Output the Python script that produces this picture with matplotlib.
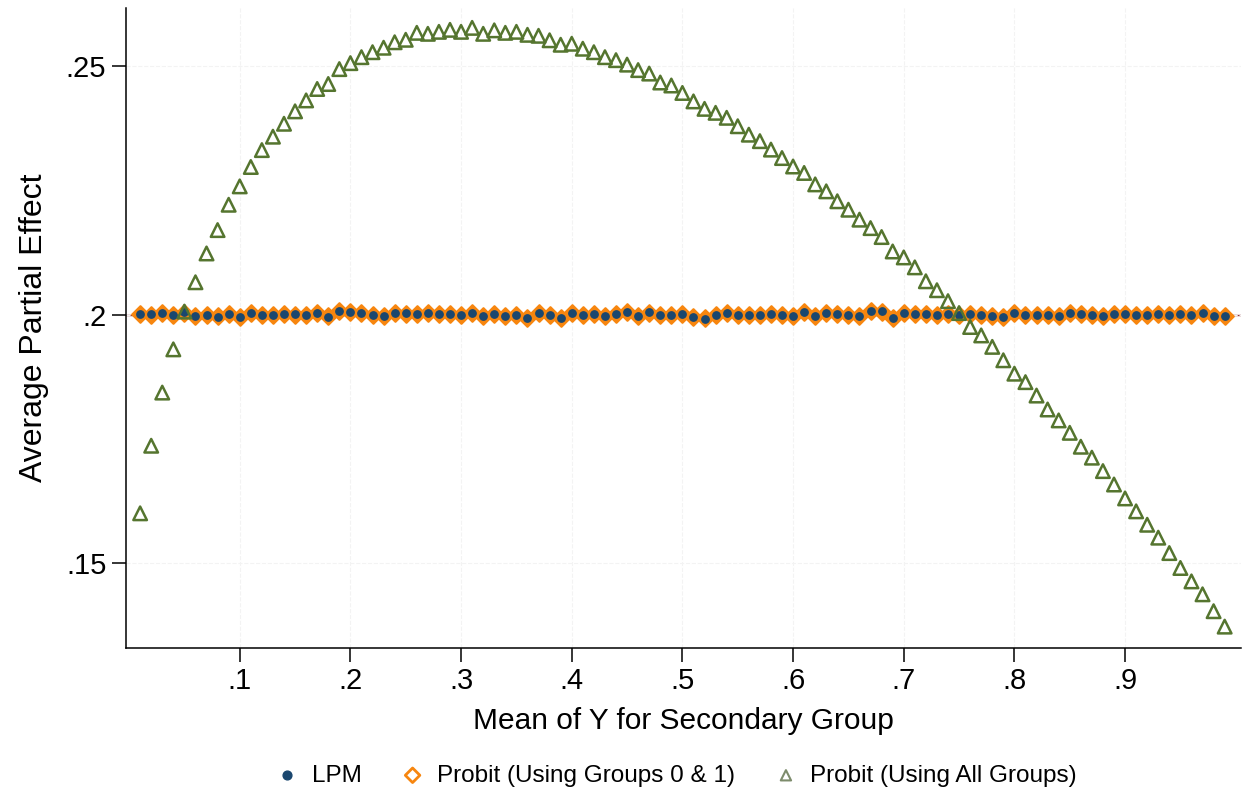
import matplotlib.pyplot as plt
from matplotlib.ticker import FuncFormatter

plt.rcParams['font.family'] = ['Liberation Sans', 'DejaVu Sans']

# mean of Y for secondary group, 0.01 .. 0.99
mean_y = [round(0.01 * i, 2) for i in range(1, 100)]

lpm = [0.2001, 0.2001, 0.2003, 0.1999, 0.2005, 0.1998, 0.1999, 0.1996, 0.2001, 0.1996,
       0.2003, 0.2000, 0.1999, 0.2001, 0.2001, 0.1999, 0.2003, 0.1996, 0.2008, 0.2005,
       0.2003, 0.2000, 0.1998, 0.2003, 0.2003, 0.2001, 0.2004, 0.2001, 0.2002, 0.1999,
       0.2003, 0.1998, 0.2001, 0.1997, 0.2000, 0.1993, 0.2003, 0.1999, 0.1993, 0.2003,
       0.2000, 0.2001, 0.1997, 0.2002, 0.2005, 0.1997, 0.2005, 0.2000, 0.2000, 0.2002,
       0.1995, 0.1992, 0.1999, 0.2003, 0.2000, 0.2000, 0.2000, 0.2002, 0.2000, 0.1997,
       0.2005, 0.1997, 0.2003, 0.2001, 0.2000, 0.1997, 0.2007, 0.2007, 0.1993, 0.2003,
       0.2001, 0.2002, 0.2000, 0.2001, 0.1999, 0.2002, 0.2000, 0.1998, 0.1996, 0.2003,
       0.2000, 0.1999, 0.2000, 0.1998, 0.2003, 0.2001, 0.2000, 0.1998, 0.2002, 0.2002,
       0.2000, 0.1999, 0.2002, 0.2000, 0.2001, 0.1999, 0.2003, 0.1998, 0.1998]

probit_01 = [0.2001, 0.2000, 0.2003, 0.1999, 0.2004, 0.1998, 0.1999, 0.1997, 0.2001, 0.1996,
             0.2003, 0.2000, 0.1999, 0.2001, 0.2000, 0.1999, 0.2003, 0.1997, 0.2008, 0.2005,
             0.2003, 0.2000, 0.1998, 0.2003, 0.2002, 0.2001, 0.2004, 0.2001, 0.2002, 0.1999,
             0.2003, 0.1998, 0.2001, 0.1997, 0.2000, 0.1994, 0.2003, 0.1999, 0.1993, 0.2003,
             0.2000, 0.2001, 0.1997, 0.2002, 0.2005, 0.1997, 0.2004, 0.2000, 0.2000, 0.2002,
             0.1995, 0.1993, 0.1999, 0.2003, 0.2000, 0.2000, 0.2000, 0.2002, 0.2000, 0.1997,
             0.2005, 0.1997, 0.2003, 0.2001, 0.2000, 0.1997, 0.2007, 0.2006, 0.1994, 0.2003,
             0.2001, 0.2002, 0.2000, 0.2001, 0.1999, 0.2002, 0.2000, 0.1998, 0.1996, 0.2003,
             0.2000, 0.1999, 0.2000, 0.1998, 0.2003, 0.2001, 0.2000, 0.1998, 0.2002, 0.2002,
             0.2000, 0.1999, 0.2002, 0.2000, 0.2001, 0.1999, 0.2003, 0.1998, 0.1998]

probit_all = [0.1600, 0.1736, 0.1843, 0.1930, 0.2006, 0.2065, 0.2123, 0.2170, 0.2221, 0.2258,
              0.2297, 0.2331, 0.2358, 0.2384, 0.2409, 0.2431, 0.2454, 0.2464, 0.2494, 0.2506,
              0.2518, 0.2528, 0.2537, 0.2548, 0.2553, 0.2567, 0.2565, 0.2569, 0.2573, 0.2569,
              0.2577, 0.2565, 0.2572, 0.2567, 0.2569, 0.2563, 0.2561, 0.2552, 0.2543, 0.2545,
              0.2535, 0.2528, 0.2518, 0.2512, 0.2503, 0.2492, 0.2485, 0.2467, 0.2461, 0.2446,
              0.2429, 0.2414, 0.2406, 0.2396, 0.2379, 0.2362, 0.2349, 0.2332, 0.2315, 0.2298,
              0.2285, 0.2262, 0.2248, 0.2228, 0.2211, 0.2191, 0.2174, 0.2156, 0.2127, 0.2115,
              0.2095, 0.2067, 0.2049, 0.2027, 0.2003, 0.1975, 0.1958, 0.1935, 0.1908, 0.1881,
              0.1864, 0.1837, 0.1809, 0.1787, 0.1762, 0.1734, 0.1712, 0.1685, 0.1658, 0.1630,
              0.1604, 0.1577, 0.1551, 0.1520, 0.1490, 0.1463, 0.1437, 0.1403, 0.1372]

x_ticks = [0.1, 0.2, 0.3, 0.4, 0.5, 0.6, 0.7, 0.8, 0.9]
y_ticks = [0.15, 0.2, 0.25]

NAVY = '#1a476f'
ORANGE = '#f7860f'
GREEN = '#55752f'
MAROON = '#90353b'

fig = plt.figure(figsize=(12.45, 7.98), dpi=100)
ax = fig.add_axes([0.101, 0.188, 0.896, 0.802])

ax.axhline(0.2, color=MAROON, lw=1.0, zorder=1)

ax.scatter(mean_y, probit_01, marker='D', s=72, facecolors=ORANGE,
           edgecolors=ORANGE, linewidths=1.5, zorder=2)
ax.scatter(mean_y, lpm, marker='o', s=28, color=NAVY, zorder=3)
ax.scatter(mean_y, probit_all, marker='^', s=95, facecolors='none',
           edgecolors=GREEN, linewidths=1.8, zorder=4)

ax.set_xlim(-0.003, 1.005)
ax.set_ylim(0.1329, 0.2617)
ax.set_xticks(x_ticks)
ax.set_yticks(y_ticks)
fmt = FuncFormatter(lambda v, p: ('%g' % v).lstrip('0'))
ax.xaxis.set_major_formatter(fmt)
ax.yaxis.set_major_formatter(fmt)
ax.tick_params(axis='both', direction='out', length=10, width=1.1,
               labelsize=21, pad=4, colors='black')
ax.grid(True, color='#f3f3f3', lw=0.8, ls='--', zorder=0)

for side in ['top', 'right']:
    ax.spines[side].set_visible(False)
for side in ['left', 'bottom']:
    ax.spines[side].set_linewidth(1.1)

ax.set_xlabel('Mean of Y for Secondary Group', fontsize=21.5, labelpad=8)
ax.set_ylabel('Average Partial Effect', fontsize=23, labelpad=12)

h1 = ax.scatter([], [], marker='o', s=40, color=NAVY)
h2 = ax.scatter([], [], marker='D', s=55, facecolors='none', edgecolors=ORANGE, linewidths=2.0)
h3 = ax.scatter([], [], marker='^', s=55, facecolors='none', edgecolors='#7d8c6c', linewidths=1.5)
fig.legend([h1, h2, h3],
           ['LPM', 'Probit (Using Groups 0 & 1)', 'Probit (Using All Groups)'],
           loc='center', bbox_to_anchor=(0.543, 0.028), ncol=3, frameon=False,
           fontsize=17.5, handletextpad=0.5, columnspacing=1.6, handlelength=1.0)

fig.savefig('out.png', dpi=100)
